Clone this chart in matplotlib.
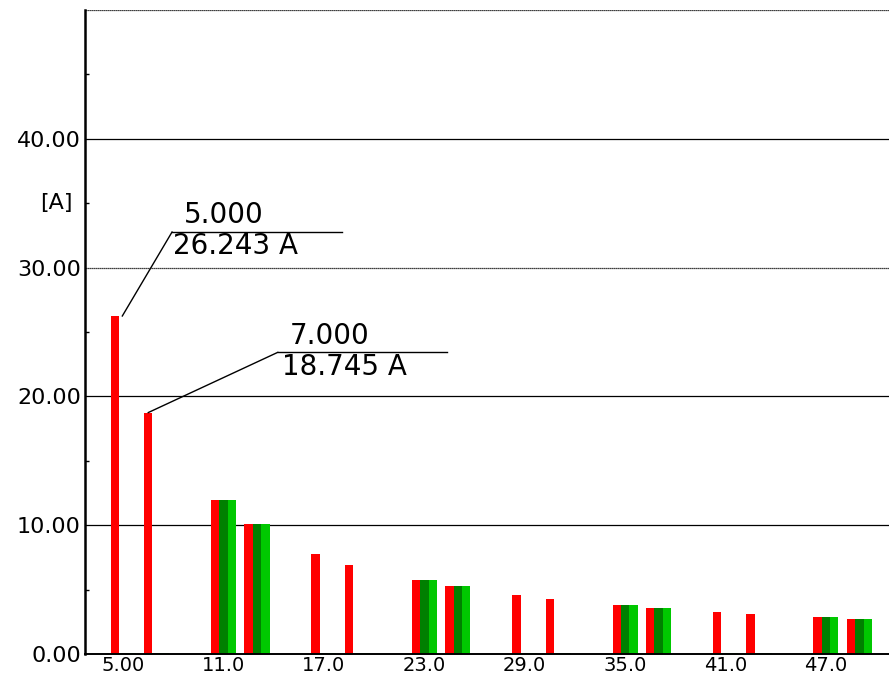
import matplotlib
matplotlib.use("Agg")
import matplotlib.pyplot as plt
import numpy as np

plt.rcParams['font.family'] = ['DejaVu Sans']

# ---- data ----
harmonics = [5, 7, 11, 13, 17, 19, 23, 25, 29, 31, 35, 37, 41, 43, 47, 49]
red_vals = [26.243, 18.745, 11.93, 10.12, 7.77, 6.90, 5.75, 5.28,
            4.58, 4.27, 3.81, 3.57, 3.24, 3.10, 2.85, 2.72]
dkgreen_vals = [0.05, 0.05, 11.93, 10.12, 0.05, 0.05, 5.75, 5.28,
                0.05, 0.05, 3.81, 3.57, 0.05, 0.05, 2.85, 2.72]
green_vals = [0.05, 0.05, 11.93, 10.12, 0.05, 0.05, 5.75, 5.28,
              0.05, 0.05, 3.81, 3.57, 0.05, 0.05, 2.85, 2.72]
xtick_vals = [5, 11, 17, 23, 29, 35, 41, 47]
xtick_labels = ["5.00", "11.0", "17.0", "23.0", "29.0", "35.0", "41.0", "47.0"]
ytick_vals = [0, 10, 20, 30, 40]
ytick_labels = ["0.00", "10.00", "20.00", "30.00", "40.00"]
grid_vals = [10, 20, 30, 40, 50]
minor_vals = [5, 15, 25, 35, 45]
unit_label = "[A]"

W, H = 889, 680
fig = plt.figure(figsize=(W / 100, H / 100), dpi=100)
ax = fig.add_axes([85 / W, 1 - 654 / H, 1 - 85 / W, (654 - 10) / H])

x = np.array(harmonics, dtype=float)
bw = 0.5
ax.bar(x - bw, red_vals, width=bw, color='#ff0000', linewidth=0, zorder=3)
ax.bar(x, dkgreen_vals, width=bw, color='#008000', linewidth=0, zorder=3)
ax.bar(x + bw, green_vals, width=bw, color='#00c800', linewidth=0, zorder=3)

ax.set_xlim(2.72, 50.77)
ax.set_ylim(0, 50)

for g in grid_vals:
    ls = (0, (1, 0.6)) if g in (30, 50) else '-'
    ax.axhline(g, color='black', lw=0.9, ls=ls, zorder=1)

for s in ['top', 'right']:
    ax.spines[s].set_visible(False)
ax.spines['left'].set_linewidth(1.8)
ax.spines['bottom'].set_linewidth(1.4)
ax.spines['bottom'].set_zorder(4)

tick_fs = 16
ax.set_yticks(ytick_vals)
ax.set_yticklabels(ytick_labels, fontsize=tick_fs)
ax.set_yticks(minor_vals, minor=True)
ax.tick_params(axis='y', which='major', length=0, pad=3)
ax.tick_params(axis='y', which='minor', direction='in', length=3, width=1)
ax.set_xticks(xtick_vals)
ax.set_xticklabels(xtick_labels, fontsize=14)
ax.tick_params(axis='x', which='major', length=0, pad=1.5)

fig.text(73 / W, 1 - 203 / H, unit_label, ha='right', va='center', fontsize=tick_fs)

# ---- annotations ----
ann_fs = 20

def annotate(i, lx0, lx1, ly, tx1, tb1, tx2, tb2, end_dx):
    h = harmonics[i]
    v = red_vals[i]
    ex = h - bw + end_dx
    ax.plot([ex, lx0], [v, ly], color='black', lw=1.0, zorder=5)
    ax.plot([lx0, lx1], [ly, ly], color='black', lw=1.0, zorder=5)
    ax.text(tx1, tb1, f"{h:.3f}", fontsize=ann_fs, ha='left', va='baseline', zorder=6)
    ax.text(tx2, tb2, f"{v:.3f} A", fontsize=ann_fs, ha='left', va='baseline', zorder=6)

annotate(0, 7.92, 18.08, 32.76, 8.6, 33.44, 8.0, 31.02, 0.45)
annotate(1, 14.24, 24.38, 23.42, 14.93, 24.07, 14.48, 21.70, 0.0)

fig.savefig("out.png", dpi=100)
